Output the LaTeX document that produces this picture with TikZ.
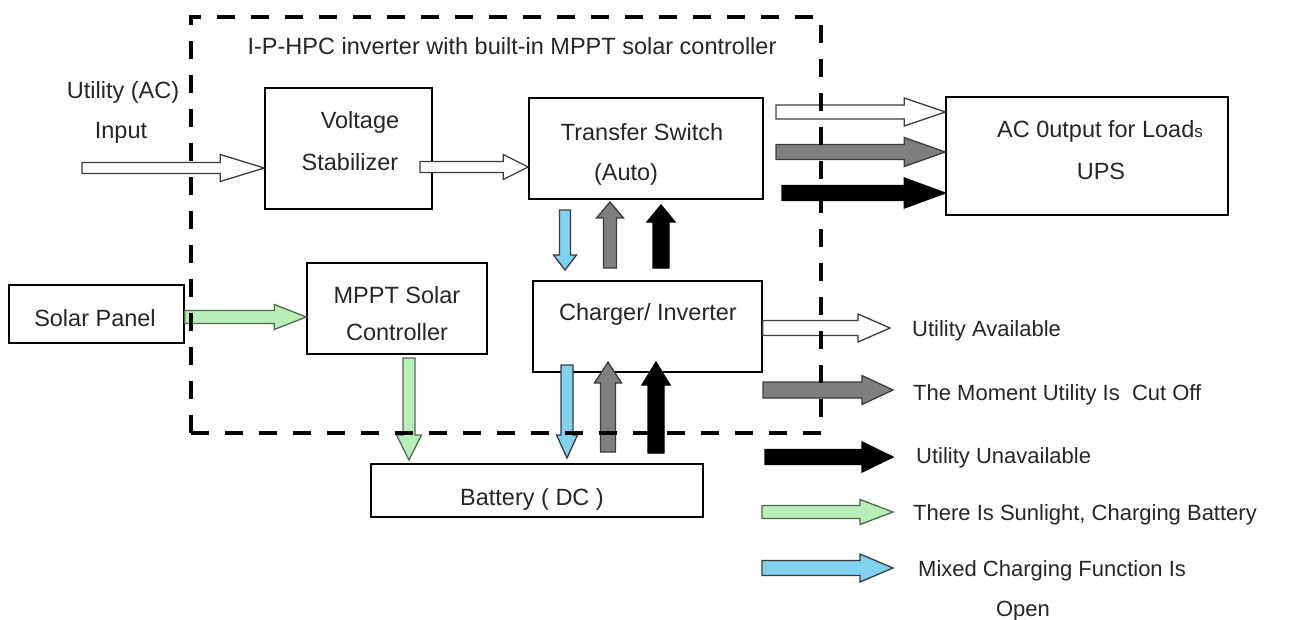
\documentclass[tikz,border=0pt]{standalone}
\usepackage{fontspec}
\setmainfont{Liberation Sans}
\usetikzlibrary{calc}
\definecolor{agray}{HTML}{7F7F7F}
\definecolor{agreen}{HTML}{B8EEB8}
\definecolor{agreenedge}{HTML}{4F6A4F}
\definecolor{ablue}{HTML}{80D2EE}
\definecolor{aedge}{HTML}{3C3C3C}
\definecolor{txt}{HTML}{262626}
\newcommand{\barrow}[6]{%
  \path (#2) coordinate (ba1) (#3) coordinate (ba2);
  \path ($(ba2)!#6!(ba1)$) coordinate (bah);
  \draw[#1] ($(ba1)!#4!90:(ba2)$) -- ($(bah)!#4!-90:(ba1)$) -- ($(bah)!#5!-90:(ba1)$)
    -- (ba2) -- ($(bah)!#5!90:(ba1)$) -- ($(bah)!#4!90:(ba1)$) -- ($(ba1)!#4!-90:(ba2)$) -- cycle;
}
\begin{document}
\begin{tikzpicture}[x=1pt,y=-1pt,
  box/.style={draw=black, line width=1.5pt, inner sep=0pt},
  lbl/.style={text=txt, inner sep=0pt, anchor=base, font=\fontsize{23.5}{28}\selectfont},
  leg/.style={text=txt, inner sep=0pt, anchor=base west, font=\fontsize{22}{26}\selectfont},
  wa/.style={draw=aedge, fill=white, line width=1.3pt, line join=miter},
  ga/.style={draw=aedge, fill=agray, line width=1.3pt, line join=miter},
  ka/.style={draw=black, fill=black, line width=1.3pt, line join=miter},
  gra/.style={draw=agreenedge, fill=agreen, line width=1.3pt, line join=miter},
  bla/.style={draw=aedge, fill=ablue, line width=1.3pt, line join=miter},
  dashbox/.style={draw=black, line width=4pt, dash pattern=on 18pt off 16pt, inner sep=0pt}
]
\useasboundingbox (0,0) rectangle (1301,619);
\fill[white] (0,0) rectangle (1301,619);

% boxes
\node[box, minimum width=167pt, minimum height=121pt] (vs) at (348.5,148.5) {};
\node[box, minimum width=234pt, minimum height=101pt] (ts) at (646,148.5) {};
\node[box, minimum width=180pt, minimum height=91pt] (mppt) at (397,308.5) {};
\node[box, minimum width=175pt, minimum height=58pt] (sp) at (96.5,314) {};
\node[box, minimum width=229pt, minimum height=91pt] (ci) at (647.5,326.5) {};
\node[box, minimum width=332pt, minimum height=53pt] (bat) at (537,490.5) {};
\node[box, minimum width=282pt, minimum height=118pt] (ac) at (1087,156) {};

% texts
\node[lbl] (title) at (512,54) {I-P-HPC inverter with built-in MPPT solar controller};
\node[lbl] (uin1) at (123,98) {Utility (AC)};
\node[lbl] (uin2) at (121,138) {Input};
\node[lbl] (vs1) at (360,128) {Voltage};
\node[lbl] (vs2) at (350,170) {Stabilizer};
\node[lbl] (ts1) at (642,140) {Transfer Switch};
\node[lbl] (ts2) at (626,180) {(Auto)};
\node[lbl] (mp1) at (397,303) {MPPT Solar};
\node[lbl] (mp2) at (397,340) {Controller};
\node[lbl] (sp1) at (95,326) {Solar Panel};
\node[lbl] (ci1) at (648,320) {Charger/ Inverter};
\node[lbl] (bat1) at (532,505) {Battery ( DC )};
\node[lbl] (ac1) at (1100,137) {AC 0utput for Load{\fontsize{17}{20}\selectfont s}};
\node[lbl] (ac2) at (1101,179) {UPS};

\node[leg] (l1) at (912,336) {Utility Available};
\node[leg] (l2) at (913,400) {The Moment Utility Is\ \ Cut Off};
\node[leg] (l3) at (916,463) {Utility Unavailable};
\node[leg] (l4) at (913,520) {There Is Sunlight, Charging Battery};
\node[leg] (l5) at (918,576) {Mixed Charging Function Is};
\node[leg, anchor=base] (l6) at (1023,616) {Open};

% coordinates for free ends
\coordinate (inTail) at (82,168);
\coordinate (lg1) at (763,390);
\coordinate (lg2) at (765,457);
\coordinate (lg3) at (762,512);
\coordinate (lg4) at (762,568);

% arrows
\barrow{wa}{inTail}{vs.west |- 0,168}{5.5pt}{13.5pt}{44pt}
\barrow{wa}{420,167}{ts.west |- 0,167}{5.5pt}{12.5pt}{25pt}
\barrow{wa}{776,112}{ac.west |- 0,112}{7pt}{14pt}{41pt}
\barrow{ga}{776,152}{ac.west |- 0,152}{7.5pt}{14.5pt}{41pt}
\barrow{ka}{782,193}{ac.west |- 0,193}{7.5pt}{15pt}{41pt}
\barrow{bla}{565,210}{565,270}{5.5pt}{11.5pt}{15pt}
\barrow{ga}{610,268}{610,202}{6.5pt}{13.5pt}{16pt}
\barrow{ka}{661,268}{661,205}{8pt}{14pt}{17pt}
\barrow{gra}{sp.east |- 0,317}{mppt.west |- 0,317}{6.5pt}{12.5pt}{32pt}
\barrow{gra}{409,358}{409,460}{6pt}{12.5pt}{25pt}
\barrow{bla}{567,365}{567,458}{6pt}{10.5pt}{23pt}
\barrow{ga}{608,452}{608,362}{7.5pt}{13.5pt}{21pt}
\barrow{ka}{656,453}{656,362}{8pt}{14pt}{23pt}
\barrow{wa}{ci.east |- 0,328}{890,328}{7.5pt}{14pt}{32pt}
\barrow{ga}{lg1}{893,390}{8pt}{14.5pt}{31pt}
\barrow{ka}{lg2}{893,457}{7.5pt}{15pt}{31pt}
\barrow{gra}{lg3}{893,512}{6.5pt}{12.5pt}{33pt}
\barrow{bla}{lg4}{893,568}{7.5pt}{14pt}{33pt}

% dashed enclosure
\node[dashbox, minimum width=630pt, minimum height=416pt] (inv) at (506,225) {};
\end{tikzpicture}
\end{document}
